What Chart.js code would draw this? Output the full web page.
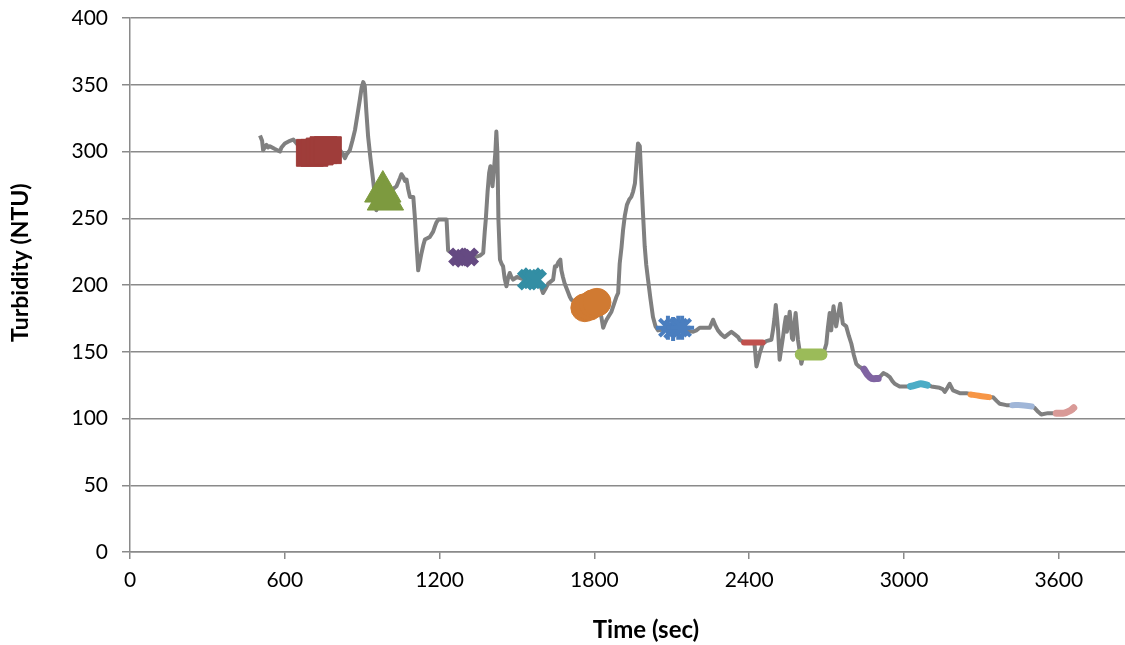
<!DOCTYPE html>
<html>
<head>
<meta charset="utf-8">
<script src="https://cdn.jsdelivr.net/npm/chart.js@4/dist/chart.umd.min.js"></script>
<style>
  html, body { margin: 0; padding: 0; background: #fff; overflow: hidden; }
  #wrap { width: 1125px; height: 645px; position: relative; overflow: hidden; }
  #c { display: block; }
</style>
</head>
<body>
<div id="wrap"><canvas id="c" width="1165" height="645"></canvas></div>
<script>
// ---- Data ----
const xTicks = [0, 600, 1200, 1800, 2400, 3000, 3600];
const yTicks = [0, 50, 100, 150, 200, 250, 300, 350, 400];
const xMax = 4000;

// Turbidity trace (time sec, NTU)
const traceTime = [504,512,516,522,529,535,542,560,581,587,600,620,633,650,680,720,760,790,814,825,833,840,852,862,872,882,891,898,904,910,916,923,932,942,955,962,970,990,1010,1020,1033,1046,1052,1059,1066,1072,1078,1085,1098,1104,1110,1117,1124,1130,1137,1143,1162,1175,1182,1188,1195,1227,1233,1260,1290,1320,1356,1369,1375,1379,1386,1392,1397,1401,1405,1410,1416,1420,1424,1428,1434,1440,1446,1452,1459,1465,1472,1478,1485,1500,1530,1560,1590,1601,1610,1621,1640,1647,1653,1660,1668,1672,1678,1685,1695,1705,1711,1740,1770,1800,1815,1827,1834,1840,1847,1866,1885,1892,1898,1905,1911,1918,1926,1935,1943,1950,1957,1963,1969,1976,1982,1988,1995,2001,2008,2017,2027,2037,2047,2080,2110,2150,2183,2195,2208,2230,2247,2260,2268,2279,2292,2305,2318,2331,2344,2357,2363,2380,2420,2428,2435,2441,2453,2466,2486,2492,2498,2503,2508,2512,2518,2524,2531,2537,2542,2546,2550,2554,2557,2562,2566,2570,2575,2580,2585,2589,2596,2602,2610,2650,2690,2699,2705,2712,2715,2718,2722,2727,2732,2737,2745,2753,2758,2763,2770,2776,2786,2796,2805,2815,2825,2834,2850,2870,2895,2910,2920,2931,2945,2955,2964,2983,3016,3050,3092,3106,3138,3150,3158,3168,3177,3190,3216,3242,3290,3330,3345,3360,3371,3397,3420,3460,3495,3506,3520,3532,3558,3577,3600,3630,3650,3661];
const traceNTU  = [312,308,301,303,305,303,304,302,300,303,306,308,309,305,303,300,301,300,301,298,295,298,301,308,316,328,339,348,352,349,330,311,295,279,256,262,268,266,268,272,274,280,283,281,278,279,272,266,266,251,232,211,218,224,230,234,236,240,244,247,249,249,226,222,221,220,222,224,240,249,270,284,289,282,274,285,299,315,299,249,219,216,214,205,199,205,209,206,204,206,204,205,200,194,197,201,204,214,214,217,219,211,206,201,196,191,189,186,185,185,183,176,168,171,174,180,191,194,216,228,241,252,260,264,266,270,276,291,306,304,279,255,229,215,204,190,176,169,166,167,168,166,165,166,168,168,168,174,170,166,163,161,163,165,163,161,159,157,157,139,144,149,156,158,159,166,175,185,175,166,144,152,161,170,176,165,169,175,180,170,160,159,170,179,168,159,150,141,147,149,150,156,168,179,170,166,176,184,175,169,178,186,178,171,170,169,162,156,148,141,139,138,135,131,130,132,134,133,131,128,126,124,124,126,125,124,123,122,120,123,126,121,119,119,117,116,116,113,111,110,110,110,109,108,105,103,104,104,104,105,106,107];

// Highlighted segments (time sec, NTU)
const seg1Time = [697,715,735,750,767],  seg1NTU = [299,299,300,301,301];
const seg2Time = [980,990],              seg2NTU = [270,264];
const seg3Time = [1270,1290,1316],       seg3NTU = [221,220,221];
const seg4Time = [1542,1558,1574],       seg4NTU = [204,205,204];
const seg5Time = [1763,1780,1795,1810],  seg5NTU = [183,184,186,187];
const seg6Time = [2085,2105,2125,2140],  seg6NTU = [168,167,168,168];
const seg7Time = [2380,2420,2452],       seg7NTU = [157,157,157];
const seg8Time = [2600,2640,2680],       seg8NTU = [148,148,148];
const seg9Time = [2845,2858,2875,2900],  seg9NTU = [137,133,130,130];
const seg10Time = [3025,3045,3065,3090], seg10NTU = [124,125,126,125];
const seg11Time = [3258,3290,3330],      seg11NTU = [118,117,116];
const seg12Time = [3420,3455,3495],      seg12NTU = [110,110,109];
const seg13Time = [3590,3620,3645,3658], seg13NTU = [104,104,106,108];

const pts = (xs, ys) => xs.map((x, i) => ({x, y: ys[i]}));

function markerSet(xs, ys, color, style, radius, bw) {
  return { data: pts(xs, ys), showLine: false, pointStyle: style, pointRadius: radius,
    pointHoverRadius: radius, pointBackgroundColor: color, pointBorderColor: color,
    pointBorderWidth: bw, order: 0 };
}
function lineSet(xs, ys, color, width) {
  return { data: pts(xs, ys), showLine: true, borderColor: color, borderWidth: width,
    borderCapStyle: 'round', borderJoinStyle: 'round', pointRadius: 0, order: 0, tension: 0.3 };
}

const datasets = [
  markerSet(seg1Time, seg1NTU, '#9f3d3a', 'rect', 19, 1),
  markerSet(seg2Time, seg2NTU, '#7d9a3f', 'triangle', 21, 1),
  markerSet(seg3Time, seg3NTU, '#654a82', 'crossRot', 10, 7),
  markerSet(seg4Time, seg4NTU, '#338ea4', 'crossRot', 12, 7),
  markerSet(seg5Time, seg5NTU, '#d07a32', 'circle', 14, 1),
  markerSet(seg6Time, seg6NTU, '#4a7ebf', 'star', 12, 4),
  lineSet(seg7Time, seg7NTU, '#c0504d', 6),
  lineSet(seg8Time, seg8NTU, '#9bbb59', 12),
  lineSet(seg9Time, seg9NTU, '#8064a2', 7),
  lineSet(seg10Time, seg10NTU, '#4bacc6', 7),
  lineSet(seg11Time, seg11NTU, '#f79646', 6),
  lineSet(seg12Time, seg12NTU, '#a0b6d8', 6),
  lineSet(seg13Time, seg13NTU, '#d99a97', 7),
  { data: pts(traceTime, traceNTU), showLine: true, borderColor: '#808080', borderWidth: 4,
    borderJoinStyle: 'round', pointRadius: 0, order: 10 }
];

new Chart(document.getElementById('c'), {
  type: 'scatter',
  data: { datasets },
  options: {
    responsive: false,
    animation: false,
    events: [],
    layout: { autoPadding: false, padding: { top: 18, right: 3, left: 2, bottom: 0 } },
    plugins: { legend: { display: false }, tooltip: { enabled: false } },
    scales: {
      x: {
        type: 'linear', min: 0, max: xMax,
        afterBuildTicks: s => { s.ticks = xTicks.map(v => ({value: v})); },
        afterFit: s => { s.height = 93; s.paddingLeft = 0; s.paddingRight = 0; },
        grid: { drawOnChartArea: false, drawTicks: true, tickLength: 7, color: '#8a8a8a', lineWidth: 1.5 },
        border: { display: true, color: '#8a8a8a', width: 1.5 },
        ticks: { color: '#000', font: { family: 'Lato', size: 21 }, padding: 9, maxRotation: 0,
                 callback: v => String(v) },
        title: { display: true, text: 'Time (sec)', color: '#000', font: { family: 'Lato', size: 24, weight: 'bold' }, padding: { top: 0, bottom: 0 } }
      },
      y: {
        type: 'linear', min: 0, max: 400,
        afterBuildTicks: s => { s.ticks = yTicks.map(v => ({value: v})); },
        afterFit: s => { s.width = 128; s.paddingTop = 0; s.paddingBottom = 0; },
        grid: { drawOnChartArea: true, drawTicks: true, tickLength: 8, color: '#8a8a8a', lineWidth: 1.5 },
        border: { display: true, color: '#8a8a8a', width: 1.5 },
        ticks: { color: '#000', font: { family: 'Lato', size: 21 }, padding: 14, callback: v => String(v) },
        title: { display: true, text: '        Turbidity (NTU)', color: '#000', font: { family: 'Lato', size: 23, weight: 'bold' }, padding: { top: 5, bottom: 0 } }
      }
    }
  }
});
</script>
</body>
</html>
